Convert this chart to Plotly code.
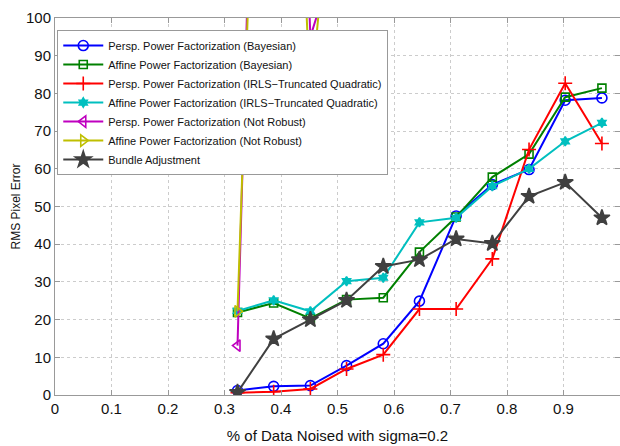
import plotly.graph_objects as go

# Fraction of noised data points (x positions shared by every method)
noise_frac = [0.323, 0.387, 0.452, 0.516, 0.581, 0.645, 0.710, 0.774, 0.839, 0.903, 0.968]

# RMS pixel error per method
persp_bayes = [1.2, 2.3, 2.5, 7.8, 13.6, 24.9, 47.5, 55.8, 59.8, 78.2, 78.8]
affine_bayes = [21.9, 24.4, 20.3, 25.3, 25.8, 37.9, 47.2, 57.8, 63.9, 79.0, 81.4]
persp_irls = [0.6, 0.85, 1.6, 6.9, 10.7, 22.8, 22.8, 36.1, 65.1, 82.7, 66.7]
affine_irls = [22.3, 25.1, 22.2, 30.2, 31.1, 45.8, 47.0, 55.4, 60.0, 67.3, 72.2]
persp_nonrobust = [13.1, 350, 95, 126, 220, 260, 300, 320, 340, 360, 380]
affine_nonrobust = [22.2, 300, 78, 180, 240, 280, 310, 330, 350, 370, 390]
bundle_adj = [0.7, 14.9, 20.0, 25.1, 34.1, 35.9, 41.4, 40.2, 52.7, 56.4, 47.0]

series = [
    ("Persp. Power Factorization (Bayesian)", persp_bayes, "#0000FF", "circle-open", 10),
    ("Affine Power Factorization (Bayesian)", affine_bayes, "#008000", "square-open", 8),
    ("Persp. Power Factorization (IRLS\u2212Truncated Quadratic)", persp_irls, "#FF0000", "cross-thin-open", 10),
    ("Affine Power Factorization (IRLS\u2212Truncated Quadratic)", affine_irls, "#00BFBF", "hexagram", 7),
    ("Persp. Power Factorization (Not Robust)", persp_nonrobust, "#BF00BF", "triangle-left-open", 10),
    ("Affine Power Factorization (Not Robust)", affine_nonrobust, "#BFBF00", "triangle-right-open", 10),
    ("Bundle Adjustment", bundle_adj, "#404040", "star", 12),
]

x_ticks = [0, 0.1, 0.2, 0.3, 0.4, 0.5, 0.6, 0.7, 0.8, 0.9]
y_ticks = [0, 10, 20, 30, 40, 50, 60, 70, 80, 90, 100]

FONT = "Liberation Sans, Arial, sans-serif"

fig = go.Figure()
for name, vals, color, symbol, size in series:
    fig.add_trace(go.Scatter(
        x=noise_frac, y=vals, name=name, mode="lines+markers",
        line=dict(color=color, width=2),
        marker=dict(symbol=symbol, size=size, color=color,
                    line=dict(color=color, width=1.6)),
        cliponaxis=True,
    ))

axis_common = dict(
    showline=True, linecolor="#999999", linewidth=1, mirror="ticks",
    ticks="inside", ticklen=5, tickcolor="#999999",
    showgrid=True, gridcolor="#cccccc", griddash="dot", gridwidth=1,
    zeroline=False, tickfont=dict(family=FONT, size=15, color="#111"),
)

fig.update_layout(
    width=620, height=446,
    margin=dict(l=55, r=0, t=18, b=51),
    paper_bgcolor="white", plot_bgcolor="white",
    font=dict(family=FONT, color="#111"),
    xaxis=dict(range=[0, 1], tickvals=x_ticks, ticktext=[str(v) for v in x_ticks],
               title=dict(text="% of Data Noised with sigma=0.2",
                          font=dict(family=FONT, size=15), standoff=14),
               **axis_common),
    yaxis=dict(range=[0, 100], tickvals=y_ticks,
               title=dict(text="RMS Pixel Error", font=dict(family=FONT, size=12), standoff=2),
               **axis_common),
    legend=dict(x=0.004, y=0.968, xanchor="left", yanchor="top",
                bgcolor="white", bordercolor="#999999", borderwidth=1,
                font=dict(family=FONT, size=11, color="#111"),
                tracegroupgap=0, itemwidth=40),
    showlegend=True,
)

fig.write_html("out.html")
